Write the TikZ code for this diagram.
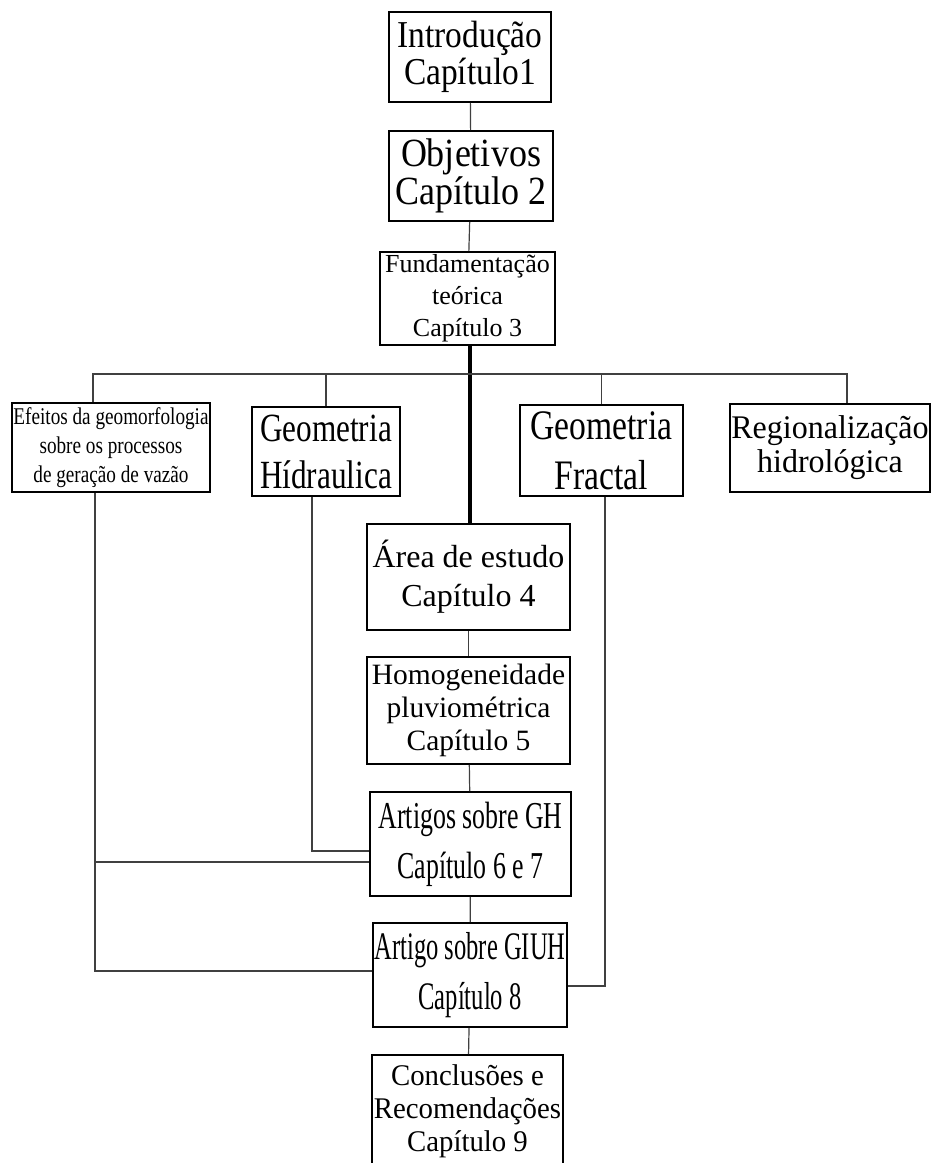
\documentclass[tikz,border=0pt]{standalone}
\usepackage{fontspec}
\setmainfont{Liberation Serif}
\usetikzlibrary{calc}

\newcommand{\fonte}[3]{\fontspec[FakeStretch=#1]{Liberation Serif}\fontsize{#2}{#3}\selectfont}

\begin{document}
\begin{tikzpicture}[x=1pt,y=-1pt,
	caixa/.style={draw=black,line width=1.6pt,inner sep=0pt,align=center},
	linha/.style={draw=black!75,line width=1.2pt},
	grossa/.style={draw=black,line width=3.2pt}]
	\useasboundingbox (0,0) rectangle (931,1163);
	\clip (0,0) rectangle (931,1163);
	
	% coluna central
	\node[caixa,minimum width=162pt,minimum height=90pt,font=\fonte{0.88}{38pt}{37pt}] (intro) at (470,57) {Introdução\\Capítulo1};
	\node[caixa,minimum width=164pt,minimum height=90pt,font=\fonte{0.9}{40pt}{38pt}] (obj) at (471,176) {Objetivos\\Capítulo 2};
	\node[caixa,minimum width=175pt,minimum height=93pt,font=\fonte{1}{26pt}{32pt}] (fund) at (467.5,298.5) {Fundamentação\\teórica\\Capítulo 3};
	\node[caixa,minimum width=203pt,minimum height=106pt,font=\fonte{1}{32pt}{39pt}] (area) at (468.5,577) {Área de estudo\\Capítulo 4};
	\node[caixa,minimum width=203pt,minimum height=107pt,font=\fonte{1}{29.5pt}{33pt}] (homog) at (468.5,710.5) {Homogeneidade\\pluviométrica\\Capítulo 5};
	\node[caixa,minimum width=201pt,minimum height=104pt,font=\fonte{0.68}{38pt}{50pt}] (artgh) at (470.5,844) {Artigos sobre GH\\Capítulo 6 e 7};
	\node[caixa,minimum width=194pt,minimum height=104pt,font=\fonte{0.63}{39pt}{50pt}] (giuh) at (470,975) {Artigo sobre GIUH\\Capítulo 8};
	\node[caixa,minimum width=191pt,minimum height=113pt,font=\fonte{0.96}{30pt}{33pt}] (concl) at (467.5,1111.5) {Conclusões e\\Recomendações\\Capítulo 9};
	
	% linha de temas
	\node[caixa,minimum width=198pt,minimum height=89pt,font=\fonte{0.8}{24pt}{29pt}] (efeitos) at (111,447.5) {Efeitos da geomorfologia\\sobre os processos\\de geração de vazão};
	\node[caixa,minimum width=148pt,minimum height=89pt,font=\fonte{0.78}{40pt}{47pt}] (geoh) at (326,451.5) {Geometria\\Hídraulica};
	\node[caixa,minimum width=163pt,minimum height=91pt,font=\fonte{0.8}{42pt}{50pt}] (geof) at (601.5,450.5) {Geometria\\Fractal};
	\node[caixa,minimum width=200pt,minimum height=88pt,font=\fonte{0.97}{33pt}{34pt}] (regio) at (830,448) {Regionalização\\hidrológica};
	
	\coordinate (b1) at (93,374);
	\coordinate (b4) at (847,374);
	\coordinate (e1) at (95,862);
	\coordinate (e2) at (95,971);
	\coordinate (h1) at (312,851);
	\coordinate (f1) at (605,986);
	\coordinate (t1) at (470,0);
	
	\draw[linha] (intro) -- (obj);
	\draw[linha] (obj) -- (fund);
	\draw[grossa] (t1 |- fund.south) -- (t1 |- area.north);
	\draw[linha] (area) -- (homog);
	\draw[linha] (homog) -- (artgh);
	\draw[linha] (artgh) -- (giuh);
	\draw[linha] (giuh) -- (concl);
	
	\draw[linha] (b1 |- efeitos.north) -- (b1) -- (b4) -- (b4 |- regio.north);
	\draw[linha] (geoh.north) -- (geoh.north |- b1);
	\draw[linha] (geof.north) -- (geof.north |- b1);
	
	\draw[linha] (e2 |- efeitos.south) -- (e2) -- (e2 -| giuh.west);
	\draw[linha] (e1) -- (e1 -| artgh.west);
	\draw[linha] (h1 |- geoh.south) -- (h1) -- (h1 -| artgh.west);
	\draw[linha] (f1 |- geof.south) -- (f1) -- (f1 -| giuh.east);
\end{tikzpicture}
\end{document}
